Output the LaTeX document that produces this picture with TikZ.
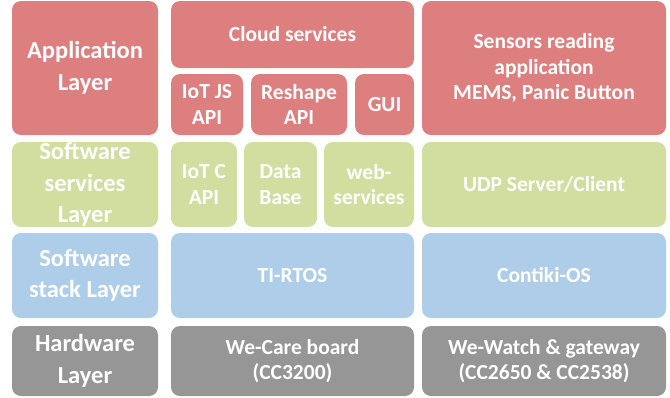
\documentclass[tikz,border=0pt]{standalone}
\usepackage{fontspec}
\setmainfont{Carlito}
\usetikzlibrary{positioning}
\definecolor{appred}{RGB}{222,127,127}
\definecolor{svcgreen}{RGB}{209,222,160}
\definecolor{stackblue}{RGB}{174,205,232}
\definecolor{hwgray}{RGB}{150,150,150}
\tikzset{
  box/.style={rounded corners=9pt, inner sep=0pt, align=center, text=white,
    font=\bfseries\fontsize{21.5}{25.5}\selectfont},
  title/.style={box, font=\bfseries\fontsize{24.5}{31.5}\selectfont},
  applayer/.style={fill=appred},
  svclayer/.style={fill=svcgreen},
  stacklayer/.style={fill=stackblue},
  hwlayer/.style={fill=hwgray}
}
\begin{document}
\begin{tikzpicture}[x=1pt,y=-1pt]
  \useasboundingbox (0,0) rectangle (670,397);
  % application layer
  \node[title,applayer,minimum width=146pt,minimum height=134pt] (app) at (85,68) {Application\\Layer};
  \node[box,applayer,minimum width=243pt,minimum height=67pt] (cloud) at (292.5,34.5) {Cloud services};
  \node[box,applayer,minimum width=72pt,minimum height=61pt] (iotjs) at (207,104.5) {IoT JS\\API};
  \node[box,applayer,minimum width=96pt,minimum height=61pt] (reshape) at (299,104.5) {Reshape\\API};
  \node[box,applayer,minimum width=59pt,minimum height=61pt] (gui) at (384.5,104.5) {GUI};
  \node[box,applayer,minimum width=244pt,minimum height=134pt] (sensors) at (544,68) {Sensors reading\\application\\MEMS, Panic Button};
  % software services layer
  \node[title,svclayer,minimum width=146pt,minimum height=85pt] (svc) at (85,184.5) {Software\\services\\Layer};
  \node[box,svclayer,minimum width=66pt,minimum height=85pt] (iotc) at (204,184.5) {IoT C\\API};
  \node[box,svclayer,minimum width=73pt,minimum height=85pt] (database) at (280.5,184.5) {Data\\Base};
  \node[box,svclayer,minimum width=90pt,minimum height=85pt] (websvc) at (369,184.5) {web-\\services};
  \node[box,svclayer,minimum width=244pt,minimum height=85pt] (udp) at (544,184.5) {UDP Server/Client};
  % software stack layer
  \node[title,stacklayer,minimum width=146pt,minimum height=85pt] (stack) at (85,275.5) {Software\\stack Layer};
  \node[box,stacklayer,minimum width=243pt,minimum height=85pt] (tirtos) at (292.5,275.5) {TI-RTOS};
  \node[box,stacklayer,minimum width=244pt,minimum height=85pt] (contiki) at (544,275.5) {Contiki-OS};
  % hardware layer
  \node[title,hwlayer,minimum width=146pt,minimum height=70pt] (hw) at (85,361) {Hardware\\Layer};
  \node[box,hwlayer,minimum width=243pt,minimum height=70pt] (wecare) at (292.5,361) {We-Care board\\(CC3200)};
  \node[box,hwlayer,minimum width=244pt,minimum height=70pt] (wewatch) at (544,361) {We-Watch \& gateway\\(CC2650 \& CC2538)};
\end{tikzpicture}
\end{document}
